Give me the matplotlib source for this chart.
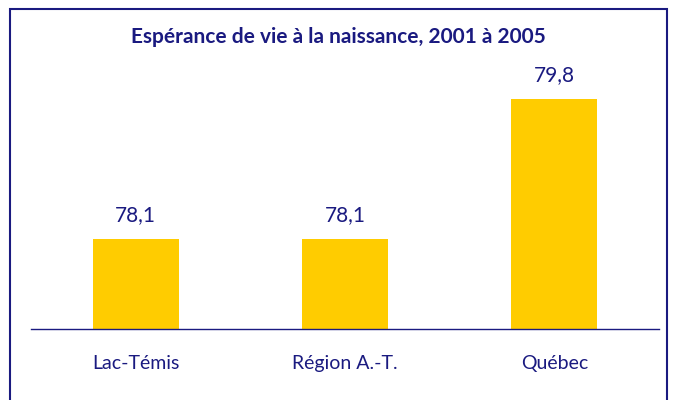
import numpy as np
import matplotlib.pyplot as plt
from matplotlib.patches import Rectangle

# data
categories = ['Lac-Témis', 'Région A.-T.', 'Québec']
values = [78.1, 78.1, 79.8]
value_labels = ['78,1', '78,1', '79,8']
title = 'Espérance de vie à la naissance, 2001 à 2005'

navy = '#1a1a80'
gold = '#ffcc00'

plt.rcParams['font.family'] = ['Lato', 'DejaVu Sans']

fig = plt.figure(figsize=(6.76, 4.0), dpi=100)
ax = fig.add_axes([31 / 676, 1 - 329 / 400, 628 / 676, (329 - 82.6) / 400])

x = np.arange(len(categories))
base = 77.0
ax.bar(x, np.array(values) - base, bottom=base, width=0.41, color=gold, zorder=2)

for xi, v, lab in zip(x, values, value_labels):
    ax.text(xi, v + 0.17, lab, ha='center', va='bottom', fontsize=15, color=navy)

ax.set_xlim(-0.5, 2.5)
ax.set_ylim(77, 80)
ax.set_xticks(x)
ax.set_xticklabels(categories, fontsize=14, color=navy)
ax.tick_params(axis='x', length=0, pad=19)
ax.set_yticks([])
for side in ['top', 'right', 'left']:
    ax.spines[side].set_visible(False)
ax.spines['bottom'].set_color(navy)
ax.spines['bottom'].set_linewidth(1.0)

fig.text(0.5, 1 - 37 / 400, title, ha='center', va='center',
         fontsize=15, fontweight='bold', color=navy)

# frame around the chart
fig.patches.append(Rectangle((10 / 676, -0.05), 657 / 676, 1.05 - 9 / 400,
                             transform=fig.transFigure, fill=False,
                             edgecolor=navy, linewidth=1.5))

fig.savefig('out.png', dpi=100)
